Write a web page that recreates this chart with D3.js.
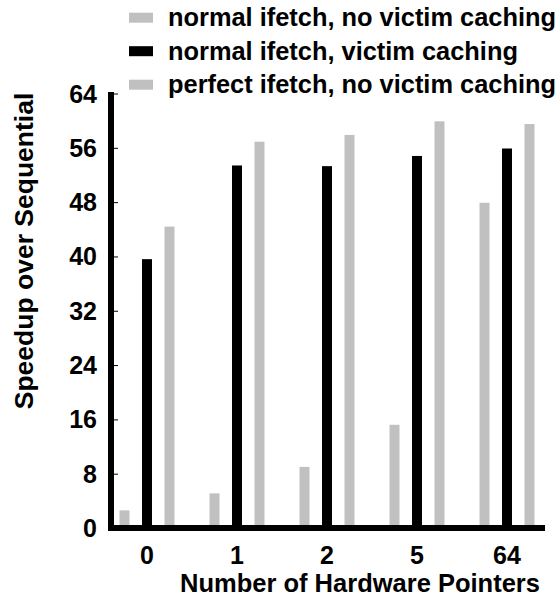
<!DOCTYPE html>
<html>
<head>
<meta charset="utf-8">
<script src="https://cdn.jsdelivr.net/npm/d3@7"></script>
<style>
  body { margin: 0; background: #fff; }
  svg text { font-family: "Liberation Sans", Arial, sans-serif; font-weight: bold; fill: #000; }
</style>
</head>
<body>
<svg id="chart"></svg>
<script>
// data
const categories = ['0', '1', '2', '5', '64']
const seriesNames = ['normal ifetch, no victim caching', 'normal ifetch, victim caching', 'perfect ifetch, no victim caching']
const normalNoVictim = [2.6, 5.1, 9.0, 15.2, 47.9]
const normalVictim = [39.6, 53.4, 53.3, 54.8, 55.9]
const perfectNoVictim = [44.4, 56.9, 57.9, 59.9, 59.5]
const yTicks = [0, 8, 16, 24, 32, 40, 48, 56, 64]
const colors = ['#c0c0c0', '#000000', '#c0c0c0']

const width = 560, height = 600
const svg = d3.select('#chart').attr('width', width).attr('height', height)

const values = [normalNoVictim, normalVictim, perfectNoVictim]
const rows = categories.map((c, i) => ({cat: c, vals: values.map(v => v[i])}))

const x0 = d3.scaleBand().domain(categories).range([102, 552]).padding(0)
const x1 = d3.scaleBand().domain(d3.range(3)).range([0, x0.bandwidth()])
  .paddingInner(0.556).paddingOuter(0.778)
const y = d3.scaleLinear().domain([0, 64]).range([528, 93.5])

// bars
svg.append('g').selectAll('g')
  .data(rows)
  .join('g')
    .attr('transform', d => 'translate(' + x0(d.cat) + ',0)')
  .selectAll('rect')
  .data(d => d.vals)
  .join('rect')
    .attr('x', (d, i) => x1(i))
    .attr('y', d => y(d))
    .attr('width', x1.bandwidth())
    .attr('height', d => y(0) - y(d))
    .attr('fill', (d, i) => colors[i])

// y axis
const yAxis = svg.append('g')
  .attr('transform', 'translate(111,0)')
  .call(d3.axisRight(y).tickValues(yTicks).tickSize(7).tickFormat(''))
yAxis.select('.domain').remove()
yAxis.selectAll('.tick line').attr('stroke', '#000').attr('stroke-width', 1)
svg.append('line')
  .attr('x1', 111).attr('x2', 111)
  .attr('y1', y(64) - 1.5).attr('y2', y(0) + 3)
  .attr('stroke', '#000').attr('stroke-width', 6)

svg.append('g').selectAll('text')
  .data(yTicks)
  .join('text')
    .attr('x', 97)
    .attr('y', d => y(d))
    .attr('dy', '0.36em')
    .attr('text-anchor', 'end')
    .attr('font-size', 25)
    .text(d => d)

// x axis
svg.append('line')
  .attr('x1', 108).attr('x2', 545)
  .attr('y1', y(0)).attr('y2', y(0))
  .attr('stroke', '#000').attr('stroke-width', 6)

svg.append('g').selectAll('text')
  .data(categories)
  .join('text')
    .attr('x', d => x0(d) + x1(1) + x1.bandwidth() / 2)
    .attr('y', 564)
    .attr('text-anchor', 'middle')
    .attr('font-size', 25)
    .text(d => d)

// axis titles
svg.append('text')
  .attr('x', 360).attr('y', 592)
  .attr('text-anchor', 'middle')
  .attr('font-size', 25.5)
  .text('Number of Hardware Pointers')

svg.append('text')
  .attr('transform', 'translate(33,251) rotate(-90)')
  .attr('text-anchor', 'middle')
  .attr('font-size', 26.5)
  .text('Speedup over Sequential')

// legend
const legend = svg.append('g').selectAll('g')
  .data(seriesNames)
  .join('g')
    .attr('transform', (d, i) => 'translate(0,' + (17.7 + i * 33.5) + ')')
legend.append('rect')
  .attr('x', 129).attr('y', -5)
  .attr('width', 24).attr('height', 10)
  .attr('fill', (d, i) => colors[i])
legend.append('text')
  .attr('x', 168)
  .attr('y', 8.5)
  .attr('font-size', 25.4)
  .text(d => d)
</script>
</body>
</html>
